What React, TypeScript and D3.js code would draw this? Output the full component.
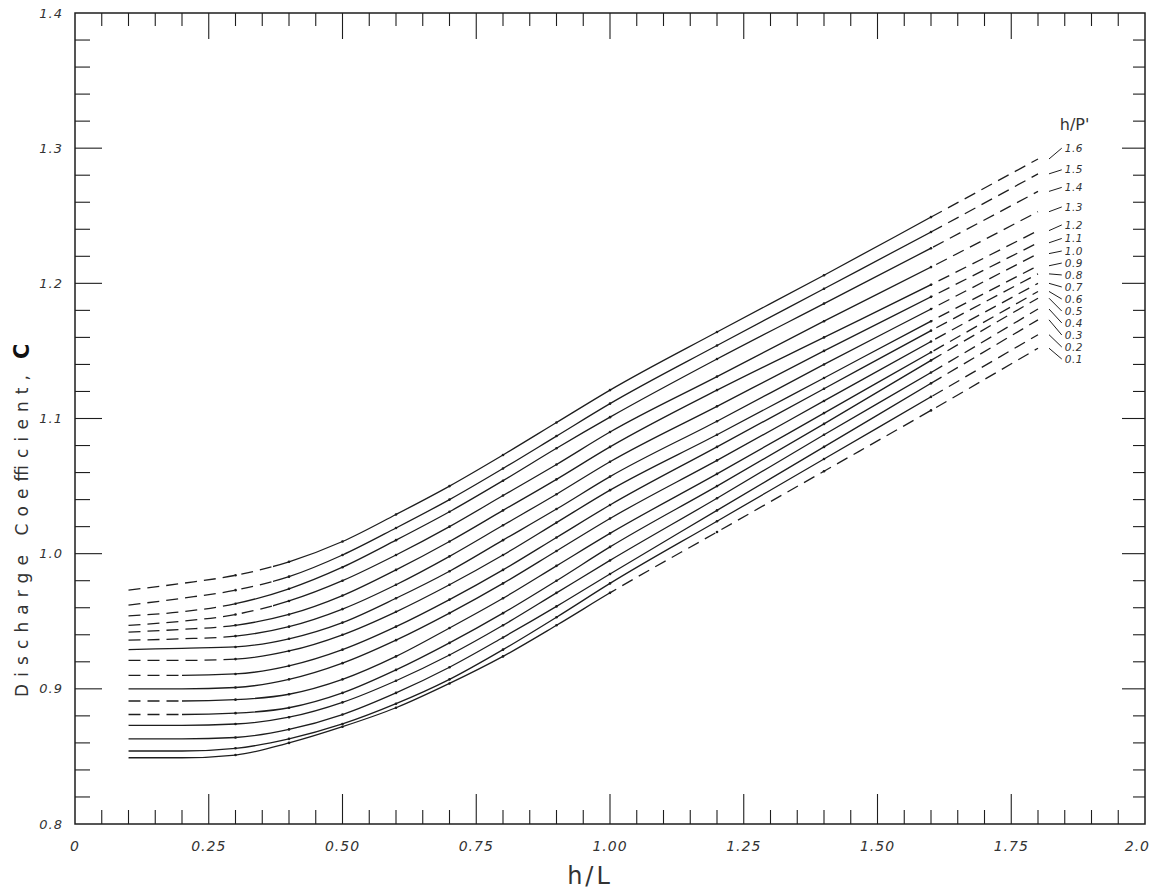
import React from 'react';
import * as d3 from 'd3';

// h/L sample positions (x values of the read points)
const HL = [0.1, 0.2, 0.3, 0.4, 0.5, 0.6, 0.7, 0.8, 0.9, 1.0, 1.2, 1.4, 1.6, 1.8];

// Discharge coefficient C for each h/P' curve
const C_HP01 = [0.849, 0.849, 0.851, 0.860, 0.872, 0.886, 0.904, 0.924, 0.947, 0.971, 1.016, 1.061, 1.106, 1.152];
const C_HP02 = [0.854, 0.854, 0.856, 0.863, 0.874, 0.889, 0.907, 0.929, 0.953, 0.978, 1.024, 1.070, 1.116, 1.162];
const C_HP03 = [0.863, 0.863, 0.864, 0.870, 0.881, 0.897, 0.916, 0.938, 0.961, 0.985, 1.032, 1.079, 1.126, 1.173];
const C_HP04 = [0.873, 0.873, 0.874, 0.879, 0.890, 0.906, 0.925, 0.947, 0.971, 0.995, 1.041, 1.088, 1.134, 1.181];
const C_HP05 = [0.881, 0.881, 0.882, 0.886, 0.897, 0.914, 0.934, 0.956, 0.980, 1.005, 1.050, 1.096, 1.143, 1.189];
const C_HP06 = [0.891, 0.891, 0.892, 0.896, 0.907, 0.924, 0.945, 0.967, 0.991, 1.015, 1.059, 1.104, 1.149, 1.194];
const C_HP07 = [0.900, 0.900, 0.901, 0.907, 0.919, 0.936, 0.956, 0.978, 1.002, 1.026, 1.069, 1.113, 1.157, 1.200];
const C_HP08 = [0.910, 0.910, 0.911, 0.917, 0.929, 0.946, 0.966, 0.988, 1.012, 1.036, 1.079, 1.122, 1.165, 1.207];
const C_HP09 = [0.921, 0.921, 0.922, 0.928, 0.940, 0.957, 0.977, 0.999, 1.023, 1.047, 1.088, 1.130, 1.172, 1.213];
const C_HP10 = [0.929, 0.930, 0.931, 0.937, 0.949, 0.967, 0.987, 1.010, 1.033, 1.057, 1.098, 1.140, 1.181, 1.222];
const C_HP11 = [0.936, 0.937, 0.939, 0.946, 0.959, 0.977, 0.998, 1.021, 1.044, 1.068, 1.109, 1.150, 1.190, 1.230];
const C_HP12 = [0.942, 0.944, 0.947, 0.955, 0.969, 0.988, 1.009, 1.032, 1.055, 1.079, 1.121, 1.160, 1.199, 1.239];
const C_HP13 = [0.947, 0.950, 0.955, 0.965, 0.980, 0.999, 1.020, 1.043, 1.066, 1.090, 1.131, 1.172, 1.212, 1.253];
const C_HP14 = [0.954, 0.957, 0.963, 0.974, 0.990, 1.010, 1.031, 1.054, 1.078, 1.101, 1.144, 1.185, 1.226, 1.268];
const C_HP15 = [0.962, 0.967, 0.973, 0.983, 0.999, 1.019, 1.040, 1.063, 1.087, 1.111, 1.154, 1.196, 1.238, 1.281];
const C_HP16 = [0.973, 0.978, 0.984, 0.994, 1.009, 1.029, 1.050, 1.073, 1.097, 1.121, 1.164, 1.206, 1.249, 1.292];

const HP_LABELS = ['0.1', '0.2', '0.3', '0.4', '0.5', '0.6', '0.7', '0.8', '0.9', '1.0', '1.1', '1.2', '1.3', '1.4', '1.5', '1.6'];
const SERIES = [C_HP01, C_HP02, C_HP03, C_HP04, C_HP05, C_HP06, C_HP07, C_HP08, C_HP09, C_HP10, C_HP11, C_HP12, C_HP13, C_HP14, C_HP15, C_HP16];

// where each curve's left dashed part ends, and where the right dashed part starts (h/L)
const LEFT_DASH_END = [0.1, 0.1, 0.1, 0.1, 0.2, 0.2, 0.1, 0.2, 0.3, 0.1, 0.3, 0.3, 0.37, 0.3, 0.37, 0.37];
const RIGHT_DASH_START = [1.0, 1.6, 1.6, 1.6, 1.6, 1.6, 1.6, 1.6, 1.6, 1.6, 1.6, 1.6, 1.6, 1.6, 1.6, 1.6];

// label anchors (C units) for the h/P' labels on the right
const LABEL_C = [1.144, 1.1529, 1.1618, 1.1707, 1.1795, 1.1884, 1.1973, 1.2062, 1.215, 1.2239, 1.2332, 1.2432, 1.2565, 1.271, 1.284, 1.300];

const X_TICKS = [0, 0.25, 0.5, 0.75, 1.0, 1.25, 1.5, 1.75, 2.0];
const X_TICK_LABELS = ['0', '0.25', '0.50', '0.75', '1.00', '1.25', '1.50', '1.75', '2.0'];
const Y_TICKS = [0.8, 0.9, 1.0, 1.1, 1.2, 1.3, 1.4];
const Y_TICK_LABELS = ['0.8', '0.9', '1.0', '1.1', '1.2', '1.3', '1.4'];

const W = 1152;
const H = 891;
const L = 75, R = 1145, T = 13, B = 824;
const INK = '#1e1e1e';
const FONT = '"DejaVu Sans", "Liberation Sans", sans-serif';

export default function App() {
  const x = d3.scaleLinear().domain([0, 2]).range([L, R]);
  const y = d3.scaleLinear().domain([0.8, 1.4]).range([B, T]);
  const line = d3.line<[number, number]>()
    .x(d => x(d[0]))
    .y(d => y(d[1]))
    .curve(d3.curveMonotoneX);

  const minorX = d3.range(1, 40).map(i => i * 0.05);
  const minorY = d3.range(1, 30).map(i => 0.8 + i * 0.02);
  const isMajorX = (v: number) => Math.abs(v / 0.25 - Math.round(v / 0.25)) < 1e-6;
  const isMajorY = (v: number) => Math.abs((v - 0.8) / 0.1 - Math.round((v - 0.8) / 0.1)) < 1e-6;

  const labelX = x(1.85);

  return (
    <svg width={W} height={H} style={{ position: 'absolute', left: 0, top: 0, background: '#fff' }}>
      <defs>
        {SERIES.map((_, i) => (
          <React.Fragment key={i}>
            <clipPath id={`ld${i}`}>
              <rect x={0} y={0} width={x(LEFT_DASH_END[i])} height={H} />
            </clipPath>
            <clipPath id={`sd${i}`}>
              <rect x={x(LEFT_DASH_END[i])} y={0} width={x(RIGHT_DASH_START[i]) - x(LEFT_DASH_END[i])} height={H} />
            </clipPath>
            <clipPath id={`rd${i}`}>
              <rect x={x(RIGHT_DASH_START[i])} y={0} width={W - x(RIGHT_DASH_START[i])} height={H} />
            </clipPath>
          </React.Fragment>
        ))}
      </defs>

      {/* frame */}
      <rect x={L} y={T} width={R - L} height={B - T} fill="none" stroke={INK} strokeWidth={1.5} />

      {/* x ticks bottom and top (inward) */}
      {minorX.map((v, i) => {
        const maj = isMajorX(v);
        return (
          <g key={`xt${i}`} stroke={INK} strokeWidth={1.1}>
            <line x1={x(v)} x2={x(v)} y1={B} y2={B - (maj ? 30 : 14)} />
            <line x1={x(v)} x2={x(v)} y1={T} y2={T + (maj ? 26 : 13)} />
          </g>
        );
      })}
      {/* y ticks left and right (inward) */}
      {minorY.map((v, i) => {
        const maj = isMajorY(v);
        return (
          <g key={`yt${i}`} stroke={INK} strokeWidth={1.1}>
            <line x1={L} x2={L + (maj ? 27 : 15)} y1={y(v)} y2={y(v)} />
            <line x1={R} x2={R - (maj ? 23 : 12)} y1={y(v)} y2={y(v)} />
          </g>
        );
      })}

      {/* tick labels */}
      {X_TICKS.map((v, i) => {
        const last = i === X_TICKS.length - 1;
        return (
          <text key={`xl${i}`} x={last ? W - 2 : x(v)} y={B + 27} textAnchor={last ? 'end' : 'middle'} fontFamily={FONT}
            fontStyle="italic" fontSize={14} fill="#333" letterSpacing={1}>{X_TICK_LABELS[i]}</text>
        );
      })}
      {Y_TICKS.map((v, i) => (
        <text key={`yl${i}`} x={L - 12} y={y(v)} dy="0.35em" textAnchor="end" fontFamily={FONT}
          fontStyle="italic" fontSize={13} fill="#333" letterSpacing={1}>{Y_TICK_LABELS[i]}</text>
      ))}

      {/* axis titles */}
      <text x={590} y={884} textAnchor="middle" fontFamily={FONT} fontSize={24} fill="#333" letterSpacing={3}>h/L</text>
      <g transform="translate(28,697) rotate(-90)">
        <text x={0} y={0} fontFamily={FONT} fontSize={17} fill="#333" textLength={322} lengthAdjust="spacing">Discharge Coefficient,</text>
        <text x={338} y={1} fontFamily={FONT} fontSize={21} fontWeight="bold" fill="#111">C</text>
      </g>

      {/* curves */}
      {SERIES.map((vals, i) => {
        const pts: [number, number][] = HL.map((h, j) => [h, vals[j]]);
        const d = line(pts) || '';
        return (
          <g key={`c${i}`} fill="none" stroke={INK} strokeWidth={1.3}>
            <path d={d} clipPath={`url(#ld${i})`} strokeDasharray="12 7" />
            <path d={d} clipPath={`url(#sd${i})`} />
            <path d={d} clipPath={`url(#rd${i})`} strokeDasharray="12 7" />
            {pts.filter(p => p[0] >= 0.3 && p[0] <= 1.6).map((p, k) => (
              <circle key={k} cx={x(p[0])} cy={y(p[1])} r={1.3} fill={INK} stroke="none" />
            ))}
          </g>
        );
      })}

      {/* h/P' labels with leaders */}
      <text x={labelX - 5} y={y(1.3) - 18} fontFamily={FONT} fontSize={16} fill="#333">h/P'</text>
      {SERIES.map((vals, i) => {
        const endC = vals[vals.length - 1];
        return (
          <g key={`lab${i}`}>
            <line x1={x(1.8) + 11} y1={y(endC)} x2={labelX - 3} y2={y(LABEL_C[i])} stroke={INK} strokeWidth={1} />
            <text x={labelX} y={y(LABEL_C[i])} dy="0.35em" fontFamily={FONT} fontStyle="italic"
              fontSize={10.5} fill="#333" letterSpacing={0.5}>{HP_LABELS[i]}</text>
          </g>
        );
      })}
    </svg>
  );
}
